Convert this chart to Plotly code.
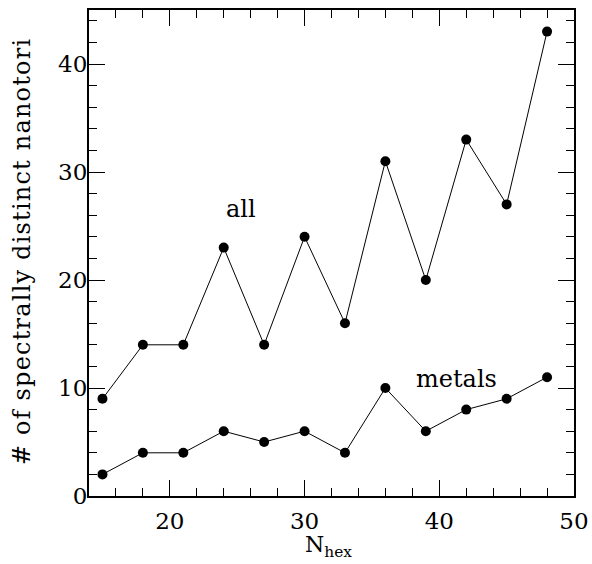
import plotly.graph_objects as go

n_hex = [15, 18, 21, 24, 27, 30, 33, 36, 39, 42, 45, 48]
all_counts = [9, 14, 14, 23, 14, 24, 16, 31, 20, 33, 27, 43]
metal_counts = [2, 4, 4, 6, 5, 6, 4, 10, 6, 8, 9, 11]

FONT = "DejaVu Serif"

fig = go.Figure()
for ys in (all_counts, metal_counts):
    fig.add_trace(go.Scatter(
        x=n_hex, y=ys, mode="lines+markers",
        line=dict(color="black", width=1),
        marker=dict(color="black", size=10),
        showlegend=False,
    ))

fig.add_annotation(x=25.3, y=26.6, text="all", showarrow=False,
                   font=dict(family=FONT, size=24, color="black"))
fig.add_annotation(x=41.3, y=10.8, text="metals", showarrow=False,
                   font=dict(family=FONT, size=24, color="black"))

# axis titles
fig.add_annotation(xref="paper", yref="paper", x=-0.138, y=0.502,
                   xanchor="center", yanchor="middle",
                   text="<span style='letter-spacing:1.2px'># of spectrally distinct nanotori</span>",
                   textangle=-90,
                   showarrow=False, font=dict(family=FONT, size=24, color="black"))
fig.add_annotation(xref="paper", yref="paper", x=0.493, y=-0.103,
                   xanchor="center", yanchor="middle",
                   text="N<sub>hex</sub>", showarrow=False,
                   font=dict(family=FONT, size=22, color="black"))

axis_common = dict(
    showgrid=False, zeroline=False, showline=True, linecolor="black",
    linewidth=2, mirror="ticks", ticks="inside", ticklen=16, tickwidth=1,
    tickcolor="black", automargin=False,
    tickfont=dict(family=FONT, size=23, color="black"),
    minor=dict(ticks="inside", ticklen=8, tickwidth=1, tickcolor="black", dtick=2),
)

fig.update_xaxes(range=[14, 50], dtick=10, tick0=0, ticklabelstandoff=3, **axis_common)
fig.update_yaxes(range=[0, 45], dtick=10, tick0=0, ticklabelstandoff=-5, **axis_common)

fig.update_layout(
    width=592, height=564,
    margin=dict(l=89, r=18, t=10, b=68),
    plot_bgcolor="white", paper_bgcolor="white",
)

fig.write_html("out.html", config={"displayModeBar": False},
               post_script="document.body.style.margin='0px';")
